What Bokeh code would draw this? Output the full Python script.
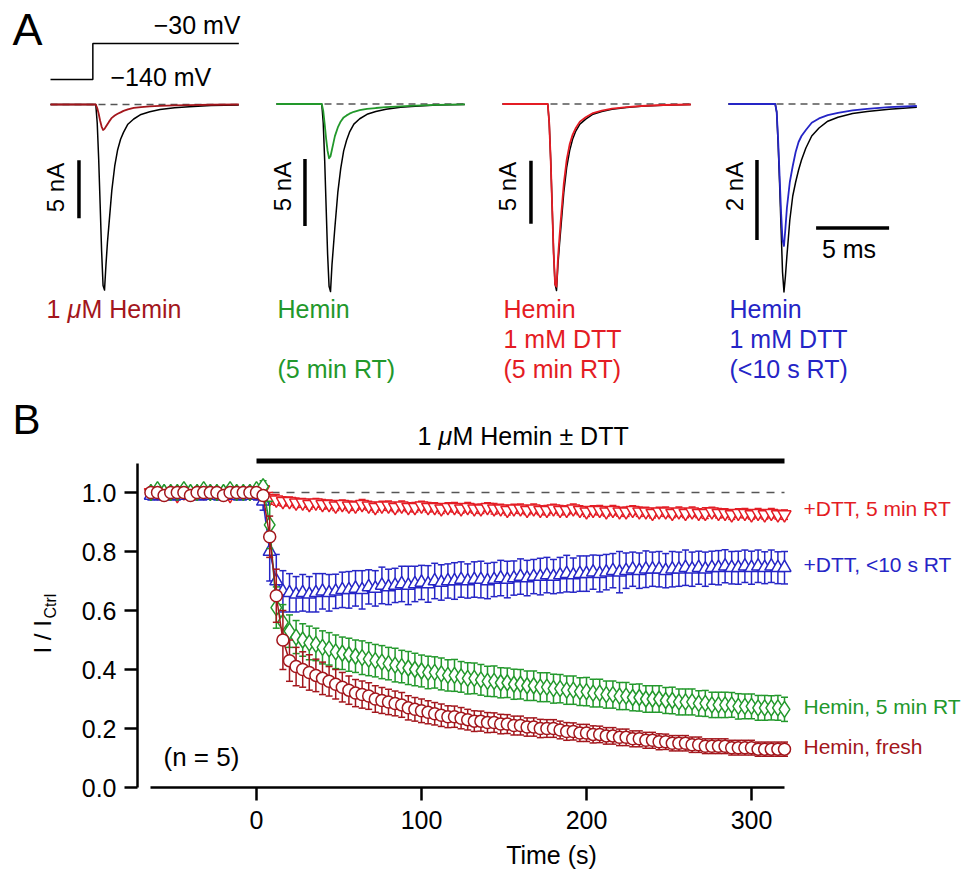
import math
from bokeh.plotting import figure
from bokeh.models import Range1d, LinearAxis, FixedTicker, PrintfTickFormatter, Label, Grid
from bokeh.layouts import column, row
from bokeh.embed import file_html
from bokeh.resources import INLINE
from bokeh.core.properties import value

FONT = "Liberation Sans"
DARKRED = "#a3161c"
RED = "#e41c24"
GREEN = "#22982b"
BLUE = "#2525c6"

# ---------------- Panel A data (current traces, ms / nA) ----------------
trace_t_ms = [0, 3.1, 3.2, 3.3, 3.4, 3.5, 3.6, 3.7, 3.8, 3.9, 4.0, 4.2, 4.4, 4.6, 4.8,
              5.0, 5.3, 5.7, 6.2, 6.8, 7.5, 8.5, 9.5, 11.0, 12.9]
ctrl_A1 = [0, 0, -1.6, -4.7, -8.6, -12.6, -15.6, -16.0, -13.8, -11.9, -10.4, -7.4, -5.3, -3.9, -3.0,
           -2.4, -1.7, -1.25, -0.86, -0.63, -0.44, -0.28, -0.19, -0.09, -0.05]
hemin_fresh_A1 = [0, 0, -0.3, -0.8, -1.4, -1.9, -2.2, -2.1, -1.9, -1.7, -1.5, -1.15, -0.95, -0.8, -0.68,
                  -0.55, -0.42, -0.3, -0.22, -0.16, -0.11, -0.07, -0.05, -0.02, 0]
ctrl_A2 = [0, 0, -1.4, -4.2, -7.7, -11.2, -13.6, -14.0, -12.0, -10.6, -9.2, -6.6, -4.8, -3.5, -2.7,
           -2.1, -1.5, -1.1, -0.77, -0.56, -0.39, -0.25, -0.17, -0.08, -0.04]
hemin_5min_A2 = [0, 0, -0.5, -1.5, -2.6, -3.5, -4.05, -3.9, -3.4, -2.9, -2.4, -1.75, -1.3, -1.0, -0.85,
                 -0.72, -0.58, -0.46, -0.37, -0.3, -0.24, -0.17, -0.12, -0.07, -0.03]
ctrl_A3 = [0, 0, -1.5, -4.4, -8.1, -11.8, -14.3, -14.8, -12.7, -11.2, -9.8, -7.0, -5.0, -3.7, -2.8,
           -2.2, -1.6, -1.2, -0.81, -0.59, -0.41, -0.27, -0.18, -0.09, -0.04]
dtt_5min_A3 = [0, 0, -1.5, -4.4, -8.1, -11.8, -14.3, -14.5, -12.2, -10.6, -9.1, -6.3, -4.4, -3.2, -2.45,
               -1.95, -1.4, -1.05, -0.72, -0.53, -0.37, -0.25, -0.16, -0.08, -0.04]
ctrl_A4 = [0, 0, 0, -0.2, -1.0, -2.0, -3.1, -4.2, -4.7, -4.3, -3.8, -2.9, -2.3, -1.95, -1.65,
           -1.4, -1.1, -0.8, -0.6, -0.43, -0.33, -0.24, -0.19, -0.13, -0.08]
dtt_10s_A4 = [0, 0, 0, -0.2, -0.9, -1.8, -2.7, -3.4, -3.55, -3.1, -2.6, -1.95, -1.55, -1.2, -0.95,
              -0.8, -0.65, -0.47, -0.36, -0.28, -0.22, -0.16, -0.12, -0.08, -0.05]
voltage_t_ms = [0, 2.9, 2.9, 12.9]
voltage_mV = [-140, -140, -30, -30]
scale_bar_nA = [5, 5, 5, 2]
scale_bar_ms = 5

# ---------------- Panel B data (normalised current vs time) ----------------
time_s = list(range(-64, 321, 4))
fresh_mean = [1.00, 1.00, 0.99, 1.00, 1.00, 1.00, 0.99, 1.00, 1.00, 1.00,
              1.00, 0.99, 1.00, 1.00, 1.00, 1.00, 1.00, 0.99, 0.85, 0.65,
              0.50, 0.43, 0.41, 0.40, 0.39, 0.38, 0.37, 0.36, 0.35, 0.34,
              0.33, 0.32, 0.315, 0.31, 0.30, 0.295, 0.29, 0.285, 0.28, 0.27,
              0.265, 0.26, 0.255, 0.25, 0.245, 0.24, 0.24, 0.235, 0.23, 0.225,
              0.225, 0.22, 0.22, 0.215, 0.215, 0.21, 0.21, 0.205, 0.205, 0.20,
              0.20, 0.20, 0.195, 0.19, 0.19, 0.185, 0.185, 0.18, 0.18, 0.175,
              0.175, 0.17, 0.17, 0.165, 0.165, 0.16, 0.16, 0.155, 0.155, 0.15,
              0.15, 0.15, 0.145, 0.145, 0.14, 0.14, 0.14, 0.14, 0.135, 0.135,
              0.135, 0.135, 0.13, 0.13, 0.13, 0.13, 0.13]
fresh_err = [0.01, 0.012, 0.01, 0.01, 0.012, 0.01, 0.01, 0.01, 0.012, 0.01,
             0.01, 0.01, 0.012, 0.01, 0.01, 0.01, 0.005, 0.01, 0.07, 0.09,
             0.10, 0.07, 0.065, 0.06, 0.06, 0.055, 0.055, 0.05, 0.05, 0.05,
             0.048, 0.046, 0.046, 0.045, 0.045, 0.044, 0.043, 0.042, 0.042, 0.041,
             0.04, 0.04, 0.039, 0.038, 0.038, 0.037, 0.036, 0.036, 0.035, 0.035,
             0.034, 0.034, 0.033, 0.033, 0.032, 0.032, 0.032, 0.031, 0.031, 0.031,
             0.03, 0.03, 0.03, 0.03, 0.029, 0.029, 0.029, 0.029, 0.028, 0.028,
             0.028, 0.028, 0.028, 0.027, 0.027, 0.027, 0.027, 0.027, 0.026, 0.026,
             0.026, 0.026, 0.026, 0.026, 0.025, 0.025, 0.025, 0.025, 0.025, 0.025,
             0.025, 0.025, 0.024, 0.024, 0.024, 0.024, 0.024]
green_mean = [1.00, 1.01, 1.00, 1.00, 1.00, 1.01, 1.00, 1.00, 1.01, 1.00,
              1.00, 1.00, 1.01, 1.00, 1.00, 1.00, 1.01, 1.02, 0.89, 0.61,
              0.56, 0.53, 0.51, 0.50, 0.49, 0.485, 0.475, 0.47, 0.46, 0.455,
              0.45, 0.445, 0.44, 0.435, 0.43, 0.425, 0.42, 0.415, 0.41, 0.405,
              0.40, 0.395, 0.39, 0.39, 0.385, 0.38, 0.38, 0.375, 0.37, 0.37,
              0.365, 0.36, 0.36, 0.355, 0.355, 0.35, 0.35, 0.345, 0.345, 0.34,
              0.34, 0.335, 0.335, 0.33, 0.33, 0.325, 0.325, 0.32, 0.32, 0.315,
              0.315, 0.31, 0.31, 0.305, 0.305, 0.30, 0.30, 0.30, 0.295, 0.295,
              0.29, 0.29, 0.29, 0.285, 0.285, 0.28, 0.28, 0.28, 0.28, 0.275,
              0.275, 0.275, 0.27, 0.27, 0.27, 0.27, 0.265]
green_err = [0.01, 0.01, 0.012, 0.01, 0.01, 0.01, 0.012, 0.01, 0.01, 0.01,
             0.01, 0.012, 0.01, 0.01, 0.01, 0.01, 0.01, 0.02, 0.08, 0.07,
             0.06, 0.055, 0.056, 0.055, 0.057, 0.055, 0.056, 0.055, 0.057, 0.055,
             0.056, 0.055, 0.057, 0.056, 0.055, 0.056, 0.055, 0.057, 0.055, 0.056,
             0.055, 0.054, 0.055, 0.053, 0.054, 0.053, 0.054, 0.052, 0.053, 0.052,
             0.052, 0.051, 0.052, 0.051, 0.05, 0.051, 0.05, 0.05, 0.05, 0.049,
             0.049, 0.049, 0.048, 0.048, 0.048, 0.047, 0.048, 0.047, 0.047, 0.046,
             0.046, 0.046, 0.046, 0.045, 0.046, 0.045, 0.045, 0.045, 0.044, 0.045,
             0.044, 0.044, 0.044, 0.043, 0.044, 0.043, 0.043, 0.043, 0.042, 0.043,
             0.042, 0.042, 0.042, 0.042, 0.041, 0.042, 0.041]
blue_mean = [0.99, 0.99, 1.00, 0.99, 0.99, 1.00, 0.99, 0.99, 0.99, 1.00,
             0.99, 0.99, 1.00, 0.99, 0.99, 1.00, 0.99, 0.97, 0.80, 0.70,
             0.665, 0.66, 0.655, 0.66, 0.655, 0.66, 0.665, 0.66, 0.665, 0.67,
             0.67, 0.675, 0.67, 0.68, 0.675, 0.685, 0.68, 0.685, 0.69, 0.685,
             0.69, 0.695, 0.69, 0.70, 0.695, 0.70, 0.70, 0.705, 0.70, 0.705,
             0.705, 0.70, 0.705, 0.71, 0.705, 0.71, 0.715, 0.71, 0.715, 0.715,
             0.72, 0.715, 0.72, 0.725, 0.72, 0.725, 0.725, 0.73, 0.725, 0.73,
             0.735, 0.73, 0.735, 0.74, 0.735, 0.74, 0.74, 0.74, 0.735, 0.74,
             0.74, 0.745, 0.74, 0.745, 0.74, 0.745, 0.745, 0.75, 0.745, 0.745,
             0.75, 0.745, 0.75, 0.745, 0.75, 0.745, 0.745]
blue_err = [0.015, 0.015, 0.012, 0.015, 0.015, 0.012, 0.015, 0.015, 0.015, 0.012,
            0.015, 0.015, 0.012, 0.015, 0.015, 0.012, 0.015, 0.03, 0.10, 0.09,
            0.07, 0.065, 0.06, 0.062, 0.06, 0.065, 0.06, 0.062, 0.058, 0.06,
            0.062, 0.06, 0.065, 0.058, 0.06, 0.062, 0.06, 0.058, 0.06, 0.065,
            0.06, 0.058, 0.062, 0.06, 0.06, 0.058, 0.062, 0.06, 0.058, 0.06,
            0.062, 0.06, 0.058, 0.06, 0.062, 0.058, 0.06, 0.06, 0.058, 0.062,
            0.06, 0.058, 0.06, 0.062, 0.058, 0.06, 0.06, 0.058, 0.062, 0.06,
            0.058, 0.07, 0.06, 0.058, 0.06, 0.062, 0.058, 0.06, 0.058, 0.06,
            0.058, 0.06, 0.058, 0.056, 0.058, 0.056, 0.058, 0.056, 0.055, 0.056,
            0.055, 0.056, 0.055, 0.054, 0.055, 0.054, 0.055]
red_mean = [1.00, 1.00, 1.00, 1.00, 0.99, 1.00, 1.00, 1.00, 1.00, 1.00,
            1.00, 1.00, 0.99, 1.00, 1.00, 1.00, 1.00, 1.01, 0.98, 0.975,
            0.97, 0.97, 0.965, 0.965, 0.96, 0.965, 0.96, 0.96, 0.955, 0.96,
            0.955, 0.955, 0.96, 0.955, 0.95, 0.955, 0.955, 0.95, 0.955, 0.95,
            0.95, 0.955, 0.95, 0.95, 0.945, 0.95, 0.95, 0.945, 0.95, 0.945,
            0.945, 0.95, 0.945, 0.945, 0.94, 0.945, 0.945, 0.94, 0.945, 0.94,
            0.94, 0.945, 0.94, 0.94, 0.945, 0.94, 0.935, 0.94, 0.94, 0.935,
            0.94, 0.935, 0.935, 0.94, 0.935, 0.935, 0.93, 0.935, 0.935, 0.93,
            0.935, 0.93, 0.935, 0.93, 0.93, 0.935, 0.93, 0.93, 0.925, 0.93,
            0.93, 0.925, 0.93, 0.925, 0.93, 0.925, 0.925]
red_err = [0.01, 0.01, 0.012, 0.01, 0.01, 0.012, 0.01, 0.01, 0.01, 0.012,
           0.01, 0.01, 0.012, 0.01, 0.01, 0.01, 0.01, 0.015, 0.02, 0.018,
           0.016, 0.015, 0.016, 0.015, 0.016, 0.015, 0.016, 0.015, 0.016, 0.015,
           0.016, 0.015, 0.016, 0.015, 0.016, 0.015, 0.016, 0.015, 0.016, 0.015,
           0.016, 0.015, 0.016, 0.015, 0.016, 0.015, 0.016, 0.015, 0.016, 0.015,
           0.016, 0.015, 0.018, 0.015, 0.016, 0.015, 0.016, 0.015, 0.016, 0.015,
           0.016, 0.015, 0.016, 0.015, 0.016, 0.015, 0.016, 0.015, 0.016, 0.015,
           0.016, 0.015, 0.016, 0.015, 0.016, 0.015, 0.016, 0.015, 0.016, 0.015,
           0.016, 0.015, 0.016, 0.015, 0.018, 0.015, 0.016, 0.015, 0.016, 0.015,
           0.016, 0.015, 0.016, 0.015, 0.016, 0.015, 0.016]
hemin_window_s = [0, 320]
control_level = 1.0
y_ticks = [0.0, 0.2, 0.4, 0.6, 0.8, 1.0]
x_ticks = [0, 100, 200, 300]


def no_grid(p):
    for g in p.select({"type": Grid}):
        g.visible = False
        g.grid_line_color = None


def txt(p, x, y, s, color="black", size=25, align="left", angle=0.0, style="normal"):
    p.text(x=[x], y=[y], text=[s], text_color=color, text_font=value(FONT),
           text_font_size="%spx" % size, text_align=align, text_baseline="middle",
           angle=angle, text_font_style=value(style))


PAGE_W = 965
# =============== Panel A figure (page y 0..390) ===============
HA = 390
pA = figure(width=PAGE_W, height=HA, x_range=Range1d(0, PAGE_W), y_range=Range1d(HA, 0),
            x_axis_location=None, y_axis_location=None, toolbar_location=None,
            output_backend="svg", min_border=0, outline_line_color=None, frame_align=False)
no_grid(pA)

A_X0 = [50, 276, 502, 728]          # page x of t = 0 ms
A_BASE = [104, 103.5, 103.5, 103.5]  # page y of 0 nA
A_PX_PER_NA = [11.6, 13.4, 12.6, 40.0]
PX_PER_MS = 14.6
for i in range(4):
    pA.extra_x_ranges["t%d" % i] = Range1d(-A_X0[i] / PX_PER_MS, (PAGE_W - A_X0[i]) / PX_PER_MS)
    pA.extra_y_ranges["i%d" % i] = Range1d((A_BASE[i] - HA) / A_PX_PER_NA[i], A_BASE[i] / A_PX_PER_NA[i])
k_v = 36.0 / 110.0
pA.extra_y_ranges["v"] = Range1d(-30 - (HA - 43) / k_v, -30 + 43 / k_v)

panels = [(ctrl_A1, hemin_fresh_A1, DARKRED), (ctrl_A2, hemin_5min_A2, GREEN),
          (ctrl_A3, dtt_5min_A3, RED), (ctrl_A4, dtt_10s_A4, BLUE)]
BAR_T = 1.95
BAR_TOP = [-4.8, -4.1, -4.5, -1.4]
for i, (ctrl, drug, col) in enumerate(panels):
    xr, yr = "t%d" % i, "i%d" % i
    pA.line([trace_t_ms[0], trace_t_ms[-1]], [0, 0], x_range_name=xr, y_range_name=yr,
            line_color="#555555", line_width=1.5, line_dash="7 5")
    pA.line(trace_t_ms, ctrl, x_range_name=xr, y_range_name=yr, line_color="black", line_width=1.5,
            line_join="round")
    pA.line(trace_t_ms, drug, x_range_name=xr, y_range_name=yr, line_color=col, line_width=1.8,
            line_join="round")
    pA.line([BAR_T, BAR_T], [BAR_TOP[i], BAR_TOP[i] - scale_bar_nA[i]], x_range_name=xr, y_range_name=yr,
            line_color="black", line_width=3.5)
pA.line([6.0, 6.0 + scale_bar_ms], [-3.1, -3.1], x_range_name="t3", y_range_name="i3",
        line_color="black", line_width=3.5)
pA.line(voltage_t_ms, voltage_mV, x_range_name="t0", y_range_name="v", line_color="black", line_width=1.5)

txt(pA, 12, 29, "A", size=45)
txt(pA, 240, 24, "\u221230 mV", align="right")
txt(pA, 110, 76, "\u2212140 mV")
for (x, y, s) in [(55, 187, "%d nA" % scale_bar_nA[0]), (282, 186, "%d nA" % scale_bar_nA[1]),
                  (507, 186, "%d nA" % scale_bar_nA[2]), (734, 186, "%d nA" % scale_bar_nA[3])]:
    txt(pA, x, y, s, align="center", angle=math.pi / 2, size=24)
txt(pA, 852, 248, "%d  ms" % scale_bar_ms, align="center")
txt(pA, 46, 308, "1 ", color=DARKRED)
txt(pA, 67, 308, "\u03bc", color=DARKRED, style="italic")
txt(pA, 81, 308, "M Hemin", color=DARKRED)
txt(pA, 277, 308, "Hemin", color=GREEN)
txt(pA, 277, 368, "(5 min RT)", color=GREEN)
txt(pA, 503, 308, "Hemin", color=RED)
txt(pA, 503, 338, "1 mM DTT", color=RED)
txt(pA, 503, 368, "(5 min RT)", color=RED)
txt(pA, 729, 308, "Hemin", color=BLUE)
txt(pA, 729, 338, "1 mM DTT", color=BLUE)
txt(pA, 729, 368, "(<10 s RT)", color=BLUE)

# =============== Panel B (page y 390..877) ===============
HB = 877 - HA
WL = 66                                        # side strip with "B" and y-axis title
FR_L, FR_R, FR_T, FR_B = 137, PAGE_W, 415, 787   # page coords of plot frame
PX_PER_S = 1.65
X_AT_T0 = 256
PX_PER_UNIT = 295.0

pL = figure(width=WL, height=HB, x_range=Range1d(0, WL), y_range=Range1d(877, HA),
            x_axis_location=None, y_axis_location=None, toolbar_location=None,
            output_backend="svg", min_border=0, outline_line_color=None, frame_align=False)
no_grid(pL)
txt(pL, 12, 419, "B", size=42)
txt(pL, 41.5, 653, "I / I", size=24, angle=math.pi / 2)
txt(pL, 50, 618, "Ctrl", size=16, angle=math.pi / 2)

pB = figure(width=PAGE_W - WL, height=HB,
            x_range=Range1d((FR_L - X_AT_T0) / PX_PER_S, (FR_R - X_AT_T0) / PX_PER_S),
            y_range=Range1d(0, (FR_B - FR_T) / PX_PER_UNIT),
            x_axis_location=None, y_axis_location=None, toolbar_location=None,
            output_backend="svg", outline_line_color=None, frame_align=False,
            min_border_left=FR_L - WL, min_border_right=0, min_border_top=FR_T - HA,
            min_border_bottom=877 - FR_B)
no_grid(pB)
pB.extra_x_ranges["px"] = Range1d(FR_L, FR_R)
pB.extra_y_ranges["px"] = Range1d(FR_B, FR_T)

axis_style = dict(axis_line_width=2.5, axis_line_color="black", major_tick_line_width=2.5,
                  major_tick_line_color="black", major_tick_out=13, major_tick_in=0,
                  minor_tick_out=0, minor_tick_in=0, major_label_text_font=FONT,
                  major_label_text_font_size="25px", major_label_text_color="black")
xa = LinearAxis(ticker=FixedTicker(ticks=x_ticks), bounds=(time_s[0], time_s[-1]),
                major_label_standoff=10, axis_label="Time (s)", axis_label_text_font=FONT,
                axis_label_text_font_size="25px", axis_label_text_font_style="normal",
                axis_label_text_color="black", axis_label_standoff=9, **axis_style)
ya = LinearAxis(ticker=FixedTicker(ticks=y_ticks), formatter=PrintfTickFormatter(format="%.1f"),
                bounds=(0, 1.1), major_label_standoff=8, **axis_style)
pB.add_layout(xa, "below")
pB.add_layout(ya, "left")

pB.line(hemin_window_s, [control_level, control_level], line_color="#555555", line_width=1.5, line_dash="8 7")
pB.line(hemin_window_s, [1.107, 1.107], line_color="black", line_width=5)

series = [(red_mean, red_err, RED, "inverted_triangle", 13),
          (blue_mean, blue_err, BLUE, "triangle", 13),
          (green_mean, green_err, GREEN, "diamond", 16),
          (fresh_mean, fresh_err, DARKRED, "circle", 12)]
for mean, err, col, mk, sz in series:
    lo = [m - e for m, e in zip(mean, err)]
    hi = [m + e for m, e in zip(mean, err)]
    pB.segment(x0=time_s, y0=lo, x1=time_s, y1=hi, line_color=col, line_width=1.5)
    pB.scatter(time_s, hi, marker="dash", size=7, line_color=col, line_width=1.5)
    pB.scatter(time_s, lo, marker="dash", size=7, line_color=col, line_width=1.5)
    pB.line(time_s, mean, line_color=col, line_width=1.5)
    pB.scatter(time_s, mean, marker=mk, size=sz, fill_color="white", line_color=col, line_width=1.5)


def lab(p, x, y, s, color="black", size=25, style="normal"):
    p.add_layout(Label(x=x, y=y, text=s, x_range_name="px", y_range_name="px", text_color=color,
                       text_font=FONT, text_font_size="%spx" % size, text_align="left",
                       text_baseline="middle", text_font_style=style))


lab(pB, 163, 756, "(n = 5)", size=26)
lab(pB, 417, 435, "1 ")
lab(pB, 438, 435, "\u03bc", style="italic")
lab(pB, 452, 435, "M Hemin \u00b1 DTT")
lab(pB, 803, 508, "+DTT, 5 min RT", color=RED, size=21)
lab(pB, 803, 564, "+DTT, <10 s RT", color=BLUE, size=21)
lab(pB, 803, 706, "Hemin, 5 min RT", color=GREEN, size=21)
lab(pB, 803, 746, "Hemin, fresh", color=DARKRED, size=21)

layout = column(pA, row(pL, pB, spacing=0), spacing=0)
open("out.html", "w").write(file_html(layout, INLINE))
